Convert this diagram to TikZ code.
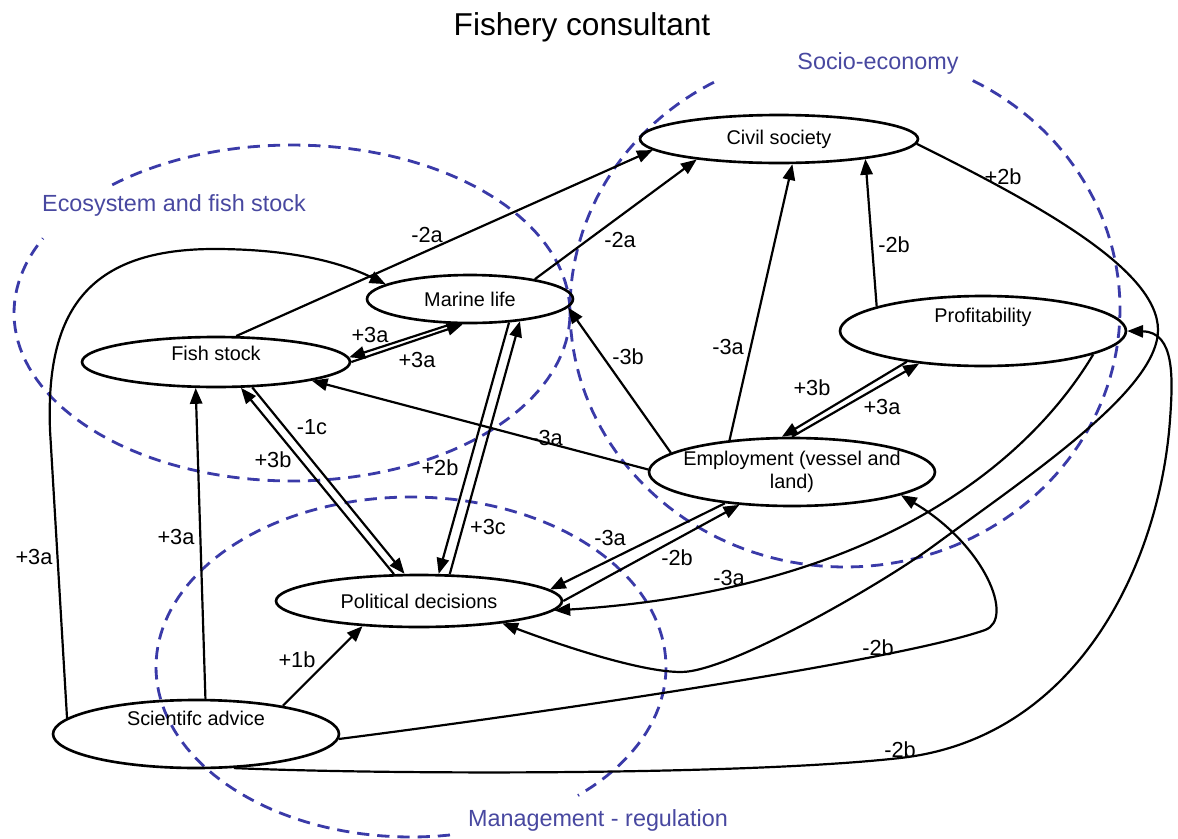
\documentclass[tikz,border=0pt]{standalone}
\usepackage{fontspec}
\setmainfont{Liberation Sans}
\usetikzlibrary{shapes.geometric,arrows.meta}
\definecolor{clusterblue}{RGB}{58,58,168}
\definecolor{clustertext}{RGB}{72,72,160}

\begin{document}
\begin{tikzpicture}[x=0.02cm, y=-0.02cm]
    % Define styles
    \tikzset{
        factor/.style={draw, ellipse, line width=1.5pt, inner sep=0pt, font=\fontsize{11.3}{13}\selectfont},
        effect/.style={-{Triangle[length=9pt,width=7pt]}, line width=1.25pt},
        weight/.style={font=\fontsize{12.4}{14}\selectfont, inner sep=0pt},
        cluster/.style={draw=clusterblue, line width=1.6pt, dash pattern=on 7pt off 4.5pt},
        clusterlabel/.style={text=clustertext, font=\fontsize{13.3}{15}\selectfont, inner sep=1pt}
    }
    \useasboundingbox (0,0) rectangle (1178,839);

    % Title
    \node[font=\fontsize{18}{21}\selectfont] (title) at (582,27) {Fishery consultant};

    % Groups (dashed ellipses, open where the name sits)
    \draw[cluster] plot[domain=229.7:566.4, samples=150] ({292+278*cos(\x)}, {313+168*sin(\x)});
    \draw[cluster] plot[domain=297.7:602.5, samples=150] ({845+275*cos(\x)}, {309+258*sin(\x)});
    \draw[cluster] plot[domain=81.2:409.1, samples=150] ({411+255*cos(\x)}, {667+170*sin(\x)});
    \node[clusterlabel] (eco) at (174,205) {Ecosystem and fish stock};
    \node[clusterlabel] (socio) at (878,63) {Socio-economy};
    \node[clusterlabel] (mgmt) at (598,820) {Management - regulation};

    % Factors
    \node[factor, minimum width=5.56cm, minimum height=0.96cm] (civil) at (779,139) {Civil society};
    \node[factor, minimum width=4.12cm, minimum height=0.96cm] (marine) at (470,299) {Marine life};
    \node[factor, minimum width=5.36cm, minimum height=1.0cm, text depth=10pt] (fish) at (216,362) {Fish stock};
    \node[factor, minimum width=5.72cm, minimum height=1.4cm, text depth=18pt] (profit) at (983,331) {Profitability};
    \node[factor, minimum width=5.72cm, minimum height=1.36cm, align=center, inner xsep=-20pt] (employ) at (792,472) {Employment (vessel and\\ land)};
    \node[factor, minimum width=5.72cm, minimum height=1.04cm] (political) at (419,601) {Political decisions};
    \node[factor, minimum width=5.72cm, minimum height=1.36cm, text depth=18pt] (science) at (196,734) {Scientifc advice};

    % Into civil society
    \draw[effect] (fish.52) -- (civil.185);
    \draw[effect] (marine.17) -- (civil.194);
    \draw[effect] (employ.153) -- (civil.298);
    \draw[effect] (profit.167) -- (civil.347);

    % Ecosystem links
    \draw[effect] (science.173) -- (50,430) .. controls (46,320) and (80,249) .. (214,249) .. controls (290,249) and (340,262) .. (marine.170);
    \draw[effect] (science.75) -- (fish.232);
    \draw[effect] (marine.234) -- (fish.2);
    \draw[effect] (fish.0) -- (marine.254);
    \draw[effect] (employ.179) -- (fish.349);
    \draw[effect] (employ.171) -- (marine.355);

    % Political decisions
    \draw[effect] (political.133) -- (fish.314);
    \draw[effect] (fish.325) -- (political.118);
    \draw[effect] (marine.329) -- (political.54);
    \draw[effect] (political.41) -- (marine.336);
    \draw[effect] (science.18) -- (political.204);
    \draw[effect] (employ.205) -- (political.5);
    \draw[effect] (political.0) -- (employ.212);

    % Socio-economy
    \draw[effect] (profit.202) -- (employ.106);
    \draw[effect] (employ.90) -- (profit.207);
    \draw[effect] (profit.348) .. controls (1030,460) and (880,590) .. (political.356);
    \draw[effect] (civil.358) .. controls (1040,205) and (1158,270) .. (1158,330) .. controls (1158,390) and (1030,475) .. (932,547) .. controls (883,583) and (730,672) .. (681,672) .. controls (640,672) and (560,645) .. (political.345);
    \draw[effect] (science.358) .. controls (550,712) and (900,660) .. (985,630) .. controls (1015,619) and (985,545) .. (employ.348);
    \draw[effect] (science.318) .. controls (400,775) and (750,775) .. (900,758) .. controls (1080,738) and (1160,560) .. (1170,420) .. controls (1173,378) and (1175,332) .. (profit.0);

    % Weights
    \node[weight] (w-fc) at (427,235) {-2a};
    \node[weight] (w-mc) at (620,240) {-2a};
    \node[weight] (w-sm) at (34,557) {+3a};
    \node[weight] (w-sf) at (176,537) {+3a};
    \node[weight] (w-mf) at (370,335) {+3a};
    \node[weight] (w-fm) at (417,360) {+3a};
    \node[weight] (w-ef) at (547,438) {-3a};
    \node[weight] (w-pf) at (273,460) {+3b};
    \node[weight] (w-fp) at (312,427) {-1c};
    \node[weight] (w-mp) at (440,468) {+2b};
    \node[weight] (w-pm) at (488,527) {+3c};
    \node[weight] (w-em) at (628,357) {-3b};
    \node[weight] (w-ec) at (728,347) {-3a};
    \node[weight] (w-pc) at (894,245) {-2b};
    \node[weight] (w-pe) at (812,388) {+3b};
    \node[weight] (w-ep) at (882,407) {+3a};
    \node[weight] (w-epol) at (610,538) {-3a};
    \node[weight] (w-pole) at (677,558) {-2b};
    \node[weight] (w-ppol) at (729,578) {-3a};
    \node[weight] (w-cpol) at (1003,177) {+2b};
    \node[weight] (w-se) at (878,648) {-2b};
    \node[weight] (w-sp) at (900,750) {-2b};
    \node[weight] (w-spol) at (297,660) {+1b};

\end{tikzpicture}
\end{document}
